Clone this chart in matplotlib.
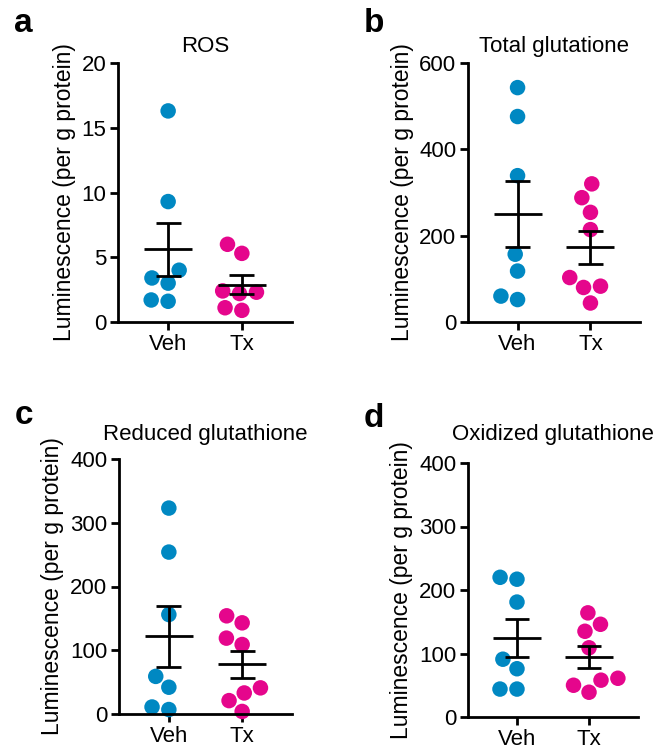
import matplotlib
matplotlib.use("Agg")
import matplotlib.pyplot as plt
import numpy as np

plt.rcParams["font.family"] = ["Liberation Sans", "DejaVu Sans"]

GROUPS = ["Veh", "Tx"]
BLUE = "#0088c2"
PINK = "#e5068c"

# values (luminescence per g protein)
ros_veh = [16.3, 9.3, 4.0, 3.4, 3.0, 1.6, 1.7]
ros_tx = [6.0, 5.3, 2.4, 2.3, 2.2, 1.1, 0.9]
total_veh = [543, 476, 339, 157, 118, 52, 60]
total_tx = [320, 288, 254, 214, 103, 83, 80, 44]
reduced_veh = [323, 254, 156, 59, 42, 7, 11]
reduced_tx = [154, 143, 119, 109, 41, 33, 21, 4]
oxidized_veh = [220, 217, 181, 91, 76, 44, 44]
oxidized_tx = [164, 146, 135, 109, 58, 61, 50, 39]

ros_ticks = [0, 5, 10, 15, 20]
total_ticks = [0, 200, 400, 600]
gsh_ticks = [0, 100, 200, 300, 400]

W, H = 667, 755
DOT_PX = 15.5


def swarm_offsets(values, px_per_unit, diam):
    """Simple beeswarm in pixel space: nearest free spot to the centre."""
    y = np.asarray(values, dtype=float) * px_per_unit
    offsets = np.zeros(len(y))
    placed = []
    for i in np.argsort(y):
        cands = [0.0]
        for px, py in placed:
            dy = abs(y[i] - py)
            if dy < diam:
                dx = np.sqrt(diam ** 2 - dy ** 2)
                cands += [px - dx, px + dx]
        cands.sort(key=lambda c: (abs(c), c))
        for c in cands:
            if all((c - px) ** 2 + (y[i] - py) ** 2 >= diam ** 2 - 1e-6 for px, py in placed):
                offsets[i] = c
                break
        placed.append((offsets[i], y[i]))
    return offsets


def panel(fig, box, letter, title, title_pad, veh, tx, ticks):
    left, top, right, bottom = box
    ax = fig.add_axes([left / W, 1 - bottom / H, (right - left) / W, (bottom - top) / H])
    ax.set_xlim(-0.68, 1.68)
    ax.set_ylim(ticks[0], ticks[-1])
    px_y = (bottom - top) / (ticks[-1] - ticks[0])
    px_x = (right - left) / 2.36

    for pos, vals, color in ((0, veh, BLUE), (1, tx, PINK)):
        vals = np.asarray(vals, dtype=float)
        xs = pos + swarm_offsets(vals, px_y, 17) / px_x
        ax.scatter(xs, vals, s=(DOT_PX * 0.72) ** 2, color=color, edgecolors="none",
                   zorder=2, clip_on=False)
        mean = vals.mean()
        sem = vals.std(ddof=1) / np.sqrt(len(vals))
        kw = dict(color="black", lw=2, solid_capstyle="butt", zorder=3)
        ax.plot([pos - 0.33, pos + 0.33], [mean, mean], **kw)
        ax.plot([pos, pos], [mean - sem, mean + sem], **kw)
        ax.plot([pos - 0.17, pos + 0.17], [mean + sem, mean + sem], **kw)
        ax.plot([pos - 0.17, pos + 0.17], [mean - sem, mean - sem], **kw)

    ax.set_xticks([0, 1], GROUPS)
    ax.set_yticks(ticks)
    for side in ("top", "right"):
        ax.spines[side].set_visible(False)
    for side in ("left", "bottom"):
        ax.spines[side].set_linewidth(2)
    ax.tick_params(width=2, length=5.5, labelsize=16, pad=3)
    ax.set_ylabel("Luminescence (per g protein)", fontsize=16.5, labelpad=4)
    ax.set_title(title, fontsize=16, pad=title_pad)
    fig.text((left - 104) / W, 1 - (bottom - 290) / H, letter, fontsize=24,
             fontweight="bold", va="baseline", ha="left")
    return ax


fig = plt.figure(figsize=(W / 100, H / 100), dpi=100)
panel(fig, (118, 63, 292, 322), "a", "ROS", 8, ros_veh, ros_tx, ros_ticks)
panel(fig, (468, 63, 640, 322), "b", "Total glutatione", 8, total_veh, total_tx, total_ticks)
panel(fig, (119, 459, 292, 714), "c", "Reduced glutathione", 13.5, reduced_veh, reduced_tx, gsh_ticks)
panel(fig, (468, 463, 638, 717), "d", "Oxidized glutathione", 16.5, oxidized_veh, oxidized_tx, gsh_ticks)
fig.savefig("out.png", dpi=100)
